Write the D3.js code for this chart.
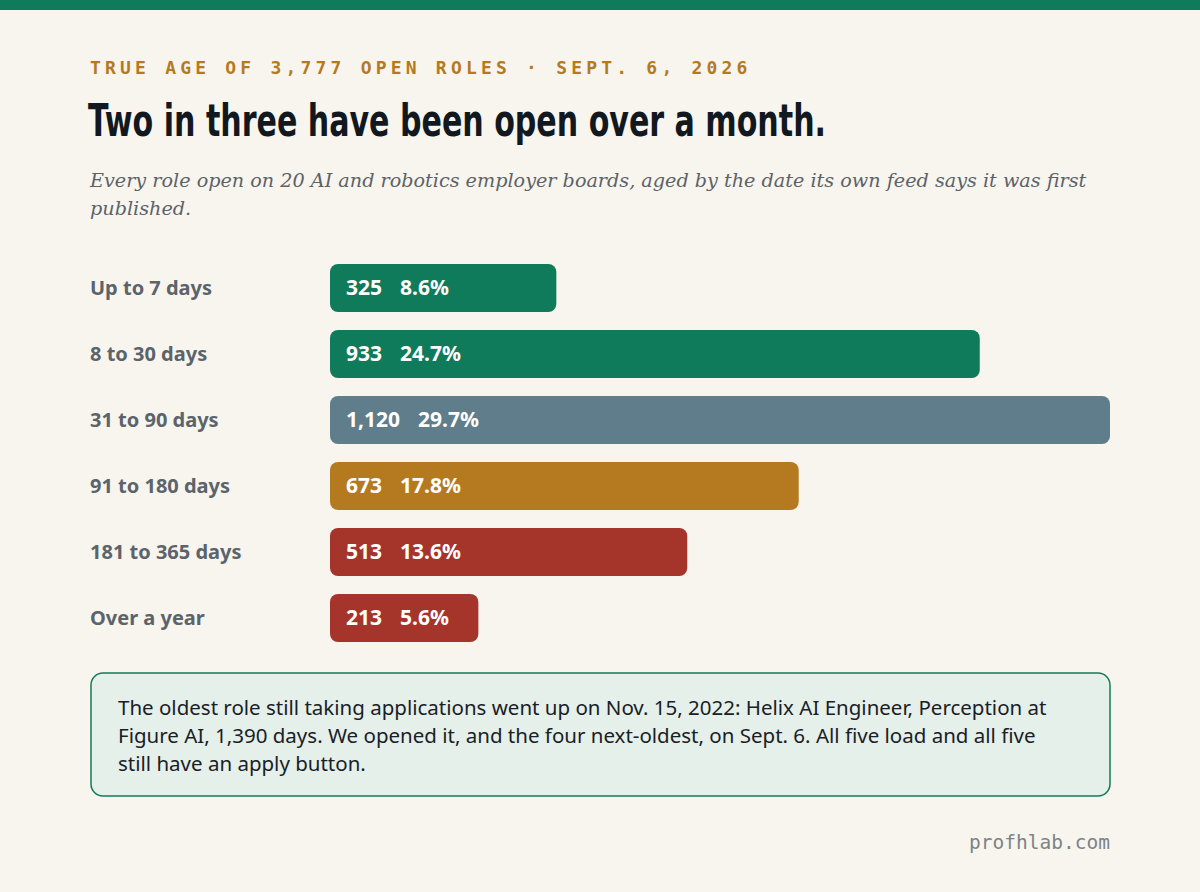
<!DOCTYPE html>
<html><head><meta charset="utf-8">
<script src="https://cdn.jsdelivr.net/npm/d3@7"></script>
<style>body{margin:0;background:#f8f5ee}</style>
</head><body>
<svg id="svg" width="1200" height="892"></svg>
<script>
var categories = ["Up to 7 days","8 to 30 days","31 to 90 days","91 to 180 days","181 to 365 days","Over a year"];
var counts = [325, 933, 1120, 673, 513, 213];
var shares = ["8.6%","24.7%","29.7%","17.8%","13.6%","5.6%"];
var colorList = ["#0f7b5b","#0f7b5b","#5f7d8a","#b57a20","#a5342b","#a5342b"];
var noteLines = [
  "The oldest role still taking applications went up on Nov. 15, 2022: Helix AI Engineer, Perception at",
  "Figure AI, 1,390 days. We opened it, and the four next-oldest, on Sept. 6. All five load and all five",
  "still have an apply button."];

var svg = d3.select("#svg");
svg.append("rect").attr("width",1200).attr("height",892).attr("fill","#f8f5ee");
svg.append("rect").attr("width",1200).attr("height",10).attr("fill","#0f7b5b");

svg.append("text").attr("x",90).attr("y",74)
  .style("font-family","DejaVu Sans Mono").style("font-weight","bold").style("font-size","18px")
  .style("letter-spacing","4.2px").attr("fill","#b57a20")
  .text("TRUE AGE OF 3,777 OPEN ROLES · SEPT. 6, 2026");

svg.append("text").attr("x",88).attr("y",136)
  .style("font-family","'DejaVu Sans Condensed','DejaVu Sans'").style("font-stretch","condensed")
  .style("font-weight","bold").style("font-size","44px")
  .attr("textLength",738).attr("lengthAdjust","spacingAndGlyphs")
  .attr("fill","#111820").text("Two in three have been open over a month.");

var sub = ["Every role open on 20 AI and robotics employer boards, aged by the date its own feed says it was first","published."];
sub.forEach(function(s,i){
  svg.append("text").attr("x",90).attr("y",187+i*28)
    .style("font-family","DejaVu Serif").style("font-style","italic").style("font-size","19.2px")
    .attr("fill","#5c6268").text(s);
});

var x = d3.scaleLinear().domain([0, d3.max(counts)]).range([0, 780]);
var y = d3.scaleBand().domain(categories).range([255, 651]).paddingInner(18/66).paddingOuter(9/66);

var g = svg.append("g");
categories.forEach(function(c,i){
  g.append("text").attr("x",90).attr("y",y(c)+y.bandwidth()/2).attr("dy","0.35em")
    .style("font-family","Noto Sans").style("font-weight","bold").style("font-size","20px")
    .attr("fill","#5b636b").text(c);
  g.append("rect").attr("x",330).attr("y",y(c)).attr("width",x(counts[i])).attr("height",y.bandwidth())
    .attr("rx",8).attr("fill",colorList[i]);
  var t = g.append("text").attr("x",346).attr("y",y(c)+y.bandwidth()/2).attr("dy","0.35em")
    .style("font-family","Noto Sans").style("font-weight","bold").style("font-size","21px")
    .attr("fill","#fff");
  t.append("tspan").text(d3.format(",")(counts[i]));
  t.append("tspan").attr("dx",18).text(shares[i]);
});

svg.append("rect").attr("x",91).attr("y",673).attr("width",1019).attr("height",123).attr("rx",12)
  .attr("fill","#e4f0e9").attr("stroke","#0f7b5b").attr("stroke-width",1.5);
noteLines.forEach(function(s,i){
  svg.append("text").attr("x",118).attr("y",715+i*28)
    .style("font-family","Noto Sans").style("font-size","20.5px").attr("fill","#1a2026").text(s);
});

svg.append("text").attr("x",1110).attr("y",849).attr("text-anchor","end")
  .style("font-family","DejaVu Sans Mono").style("font-size","19.5px").attr("fill","#7d8388").text("profhlab.com");
</script>
</body></html>
